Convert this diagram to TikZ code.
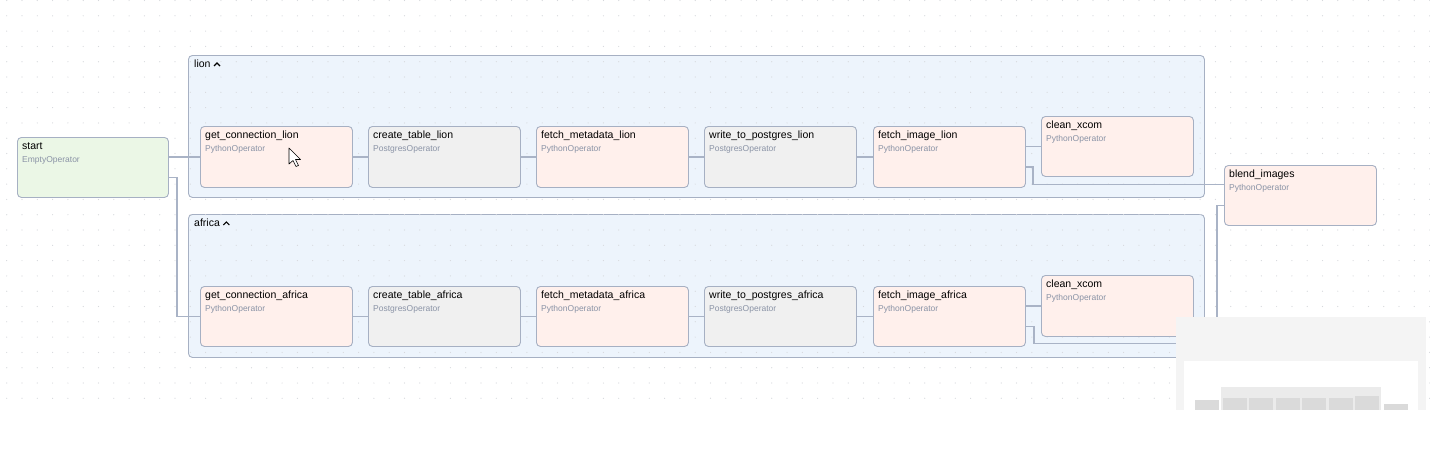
\documentclass[tikz,border=0pt]{standalone}
\usepackage{fontspec}
\setmainfont{Liberation Sans}
\definecolor{tborder}{HTML}{A6B0C3}
\definecolor{tconn}{HTML}{A9B3C6}
\definecolor{pyfill}{HTML}{FFF0EC}
\definecolor{pgfill}{HTML}{F0F0F0}
\definecolor{emfill}{HTML}{EBF7E6}
\definecolor{grfill}{HTML}{EDF4FC}
\definecolor{opgray}{HTML}{8A93A6}
\definecolor{dotc}{HTML}{D6D8DC}
\tikzset{
  taskbox/.style={draw=tborder,line width=0.9pt,rounded corners=4pt,anchor=north west,
    minimum width=152pt,minimum height=61pt,inner sep=0pt},
  pyop/.style={fill=pyfill},
  pgop/.style={fill=pgfill},
  emop/.style={fill=emfill},
  groupbox/.style={draw=tborder,fill=grfill,line width=0.9pt,rounded corners=4pt,anchor=north west,
    minimum width=1016pt,minimum height=142pt,inner sep=0pt},
  tasktitle/.style={anchor=base west,inner sep=0pt,font=\fontsize{10.5}{12}\selectfont},
  taskop/.style={anchor=base west,inner sep=0pt,text=opgray,font=\fontsize{8.5}{10}\selectfont},
  conn/.style={draw=tconn,line width=1.6pt},
}
\newcommand{\taskbox}[6]{%
  \node[taskbox,#6] (#1) at (#2,#3) {};
  \node[tasktitle] (#1-t) at ([xshift=5pt,yshift=-12pt]#1.north west) {#4};
  \node[taskop] (#1-o) at ([xshift=5pt,yshift=-25pt]#1.north west) {#5};
}
\newcommand{\chevup}{\tikz[baseline]\draw[line width=1.1pt] (0pt,1pt)--(3pt,4pt)--(6pt,1pt);}
\begin{document}
\begin{tikzpicture}[x=1pt,y=-1pt]
\useasboundingbox[fill=white] (0,0) rectangle (1430,448);
% task groups
\node[groupbox] (lion) at (188,55) {};
\node[tasktitle] (lion-t) at ([xshift=6pt,yshift=-12pt]lion.north west) {lion \chevup};
\node[groupbox,minimum height=143pt] (africa) at (188,214) {};
\node[tasktitle] (africa-t) at ([xshift=6pt,yshift=-12pt]africa.north west) {africa \chevup};
% grid
\foreach \i in {0,...,93}
  \foreach \j in {0,...,26}
    \fill[dotc] (6.7+15.3*\i,0.5+15.3*\j) circle (0.6);
% tasks
\taskbox{start}{17}{137}{start}{EmptyOperator}{emop,minimum width=151pt,minimum height=60pt}
\taskbox{gcl}{200}{126}{get\_connection\_lion}{PythonOperator}{pyop}
\taskbox{ctl}{368}{126}{create\_table\_lion}{PostgresOperator}{pgop}
\taskbox{fml}{536}{126}{fetch\_metadata\_lion}{PythonOperator}{pyop}
\taskbox{wtl}{704}{126}{write\_to\_postgres\_lion}{PostgresOperator}{pgop}
\taskbox{fil}{873}{126}{fetch\_image\_lion}{PythonOperator}{pyop}
\taskbox{cxl}{1041}{116}{clean\_xcom}{PythonOperator}{pyop,minimum height=60pt}
\taskbox{gca}{200}{286}{get\_connection\_africa}{PythonOperator}{pyop,minimum height=60pt}
\taskbox{cta}{368}{286}{create\_table\_africa}{PostgresOperator}{pgop,minimum height=60pt}
\taskbox{fma}{536}{286}{fetch\_metadata\_africa}{PythonOperator}{pyop,minimum height=60pt}
\taskbox{wta}{704}{286}{write\_to\_postgres\_africa}{PostgresOperator}{pgop,minimum height=60pt}
\taskbox{fia}{873}{286}{fetch\_image\_africa}{PythonOperator}{pyop,minimum height=60pt}
\taskbox{cxa}{1041}{275}{clean\_xcom}{PythonOperator}{pyop}
\taskbox{blend}{1224}{165}{blend\_images}{PythonOperator}{pyop,minimum height=60pt}
% edges
\draw[conn] (gcl.west -| start.east) -- (gcl.west);
\draw[conn] ([yshift=-10pt]start.east) -- ++(8,0) |- (gca.west);
\draw[conn] (gcl.east) -- (ctl.west);
\draw[conn] (ctl.east) -- (fml.west);
\draw[conn] (fml.east) -- (wtl.west);
\draw[conn] (wtl.east) -- (fil.west);
\draw[conn] (cxl.west -| fil.east) -- (cxl.west);
\draw[conn] ([yshift=-10pt]fil.east) -- ++(7,0) |- ([yshift=11pt]blend.west);
\draw[conn] (gca.east) -- (cta.west);
\draw[conn] (cta.east) -- (fma.west);
\draw[conn] (fma.east) -- (wta.west);
\draw[conn] (wta.east) -- (fia.west);
\draw[conn] (cxa.west -| fia.east) -- (cxa.west);
\draw[conn] ([yshift=-10pt]fia.east) -- ++(8,0) -- ++(0,17) -| ([xshift=-7pt,yshift=-10pt]blend.west) -- ([yshift=-10pt]blend.west);
% cursor
\draw[fill=white,line width=0.6pt,line join=round] (289,148) -- (289,164) -- (293,160.5) -- (296,166.5) -- (298.5,165.5) -- (295.5,159.5) -- (300.5,159.5) -- cycle;
% minimap
\fill[fill={rgb,255:red,244;green,244;blue,244}] (1176,317) rectangle (1426,410);
\fill[white] (1184,361) rectangle (1418,410);
\fill[fill={rgb,255:red,235;green,235;blue,235}] (1221,387) rectangle (1381,410);
\foreach \xa/\ya in {1195/400,1223/398,1249/398,1276/398,1302/398,1329/398,1355/396,1384/404}
  \fill[fill={rgb,255:red,218;green,218;blue,218}] (\xa,\ya) rectangle (\xa+23.5,410);
\end{tikzpicture}
\end{document}
